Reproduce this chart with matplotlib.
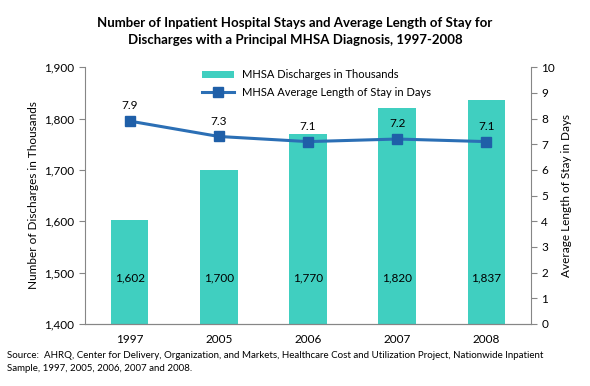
import numpy as np
import matplotlib.pyplot as plt

plt.rcParams['font.family'] = ['Lato', 'DejaVu Sans']

years = ['1997', '2005', '2006', '2007', '2008']
discharges = [1602, 1700, 1770, 1820, 1837]
avg_los = [7.9, 7.3, 7.1, 7.2, 7.1]

bar_color = '#40CFC0'
line_color = '#2B6FB5'
axis_color = '#868686'

fig = plt.figure(figsize=(5.9, 3.86), dpi=100)
ax = fig.add_axes([0.144, 0.161, 0.756, 0.665])
ax2 = ax.twinx()

x = np.arange(len(years))
bars = ax.bar(x, discharges, width=0.42, color=bar_color,
              label='MHSA Discharges in Thousands', zorder=2)
ax.set_ylim(1400, 1900)
ax.set_xlim(-0.5, len(years) - 0.5)
ax.set_yticks(np.arange(1400, 1901, 100))
ax.set_yticklabels([f'{v:,}' for v in range(1400, 1901, 100)])
ax.set_xticks(x)
ax.set_xticklabels(years)
ax.set_ylabel('Number of Discharges in Thousands', fontsize=8.5)

for xi, v in zip(x, discharges):
    ax.text(xi, 1490, f'{v:,}', ha='center', va='center', fontsize=8.5)

line, = ax2.plot(x, avg_los, color=line_color, lw=2.2, marker='s',
                 markersize=7, markerfacecolor='#1F5FA8',
                 markeredgecolor='#1F5FA8',
                 label='MHSA Average Length of Stay in Days', zorder=3)
ax2.set_ylim(0, 10)
ax2.set_yticks(range(0, 11))
ax2.set_ylabel('Average Length of Stay in Days', fontsize=8.5)

for xi, v in zip(x, avg_los):
    ax2.text(xi, v + 0.6, f'{v}', ha='center', va='center', fontsize=8.5)

for a in (ax, ax2):
    a.spines['top'].set_visible(False)
    a.tick_params(labelsize=8.5, colors='black', length=4)
    for s in a.spines.values():
        s.set_color(axis_color)
    a.tick_params(color=axis_color)
ax.spines['right'].set_visible(False)
ax2.spines['left'].set_visible(False)
ax.tick_params(axis='x', length=0, pad=7)

ax.legend([bars, line], [bars.get_label(), line.get_label()],
          loc='upper center', bbox_to_anchor=(0.52, 1.03), frameon=False,
          fontsize=8, handlelength=2.8, labelspacing=0.6)

fig.text(0.5, 0.955, 'Number of Inpatient Hospital Stays and Average Length of Stay for\n'
         'Discharges with a Principal MHSA Diagnosis, 1997-2008',
         ha='center', va='top', fontsize=9.5, fontweight='bold', linespacing=1.5)

fig.text(0.012, 0.062, 'Source:  AHRQ, Center for Delivery, Organization, and Markets, Healthcare Cost and Utilization Project, Nationwide Inpatient\n'
         'Sample, 1997, 2005, 2006, 2007 and 2008.',
         ha='left', va='center', fontsize=7, linespacing=1.5)

fig.savefig('out.png', dpi=100)
